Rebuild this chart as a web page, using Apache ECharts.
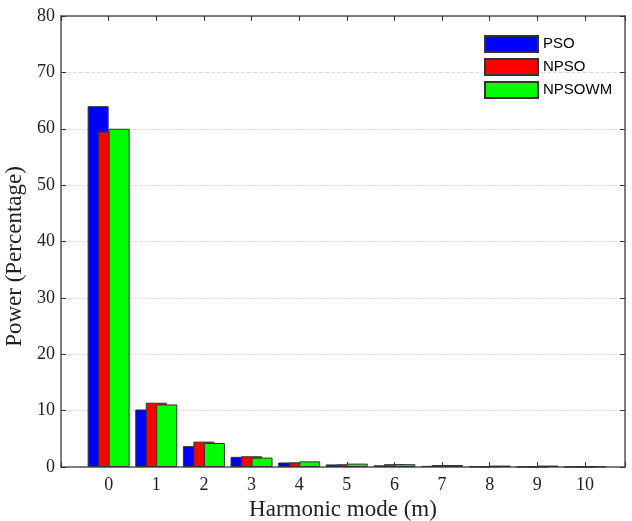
<!DOCTYPE html>
<html>
<head>
<meta charset="utf-8">
<script src="https://cdn.jsdelivr.net/npm/echarts@6/dist/echarts.min.js"></script>
<style>
  html, body { margin: 0; padding: 0; background: #fff; }
  #main { width: 632px; height: 521px; }
</style>
</head>
<body>
<div id="main"></div>
<script>
// harmonic modes and power (%) per algorithm
var modes = [0, 1, 2, 3, 4, 5, 6, 7, 8, 9, 10]
var pso = [64.0, 10.2, 3.7, 1.8, 0.8, 0.45, 0.3, 0.2, 0.1, 0.05, 0.05]
var npso = [59.5, 11.4, 4.5, 1.9, 0.8, 0.45, 0.5, 0.35, 0.1, 0.05, 0.05]
var npsowm = [60.0, 11.1, 4.26, 1.67, 1.0, 0.6, 0.5, 0.35, 0.25, 0.25, 0.1]

var serif = '"Liberation Serif", "DejaVu Serif", serif'

function pairs(vals) {
  return modes.map(function (m, i) { return [m, vals[i]] })
}

var myChart = echarts.init(document.getElementById('main'))

function bar(name, vals, color) {
  return {
    name: name,
    type: 'bar',
    barWidth: 21,
    barGap: '-50%',
    data: pairs(vals),
    itemStyle: { color: color, borderColor: '#333', borderWidth: 1 }
  }
}

var boxLine = { show: true, onZero: false, lineStyle: { color: '#555', width: 1.5 } }
var inTick = { show: true, inside: true, length: 5, lineStyle: { color: '#333' } }

var option = {
  animation: false,
  backgroundColor: '#fff',
  grid: { left: 61, right: 7, top: 16, bottom: 54, outerBoundsMode: 'none' },
  legend: {
    orient: 'vertical',
    left: 484,
    top: 35,
    padding: 0,
    icon: 'rect',
    itemWidth: 53,
    itemHeight: 16,
    itemGap: 5,
    textStyle: { fontFamily: '"Liberation Sans", Arial, sans-serif', fontSize: 15, color: '#000' },
    data: ['PSO', 'NPSO', 'NPSOWM']
  },
  xAxis: [
    {
      type: 'value',
      min: -1,
      max: 10.84,
      interval: 1,
      name: 'Harmonic mode (m)',
      nameLocation: 'middle',
      nameGap: 27,
      nameTextStyle: { fontFamily: serif, fontSize: 23, color: '#222' },
      axisLine: boxLine,
      axisTick: inTick,
      axisLabel: {
        fontFamily: serif, fontSize: 18, color: '#222', margin: 9,
        formatter: function (v) { return (v >= 0 && v % 1 === 0) ? String(v) : '' }
      },
      splitLine: { show: false }
    },
    {
      type: 'value',
      position: 'top',
      min: -1,
      max: 10.84,
      interval: 1,
      axisLine: boxLine,
      axisTick: inTick,
      axisLabel: { show: false },
      splitLine: { show: false }
    }
  ],
  yAxis: [
    {
      type: 'value',
      min: 0,
      max: 80,
      interval: 10,
      name: 'Power (Percentage)',
      nameLocation: 'middle',
      nameGap: 32,
      nameTextStyle: { fontFamily: serif, fontSize: 23, color: '#222', padding: [0, 30, 0, 0] },
      axisLine: boxLine,
      axisTick: inTick,
      axisLabel: { fontFamily: serif, fontSize: 18, color: '#222', margin: 6 },
      splitLine: { show: true, lineStyle: { color: '#ddd', type: 'dashed' } }
    },
    {
      type: 'value',
      position: 'right',
      min: 0,
      max: 80,
      interval: 10,
      axisLine: boxLine,
      axisTick: inTick,
      axisLabel: { show: false },
      splitLine: { show: false }
    }
  ],
  series: [
    bar('PSO', pso, '#0000ff'),
    bar('NPSO', npso, '#ff0000'),
    bar('NPSOWM', npsowm, '#00ff00')
  ]
}

option && myChart.setOption(option)
</script>
</body>
</html>
